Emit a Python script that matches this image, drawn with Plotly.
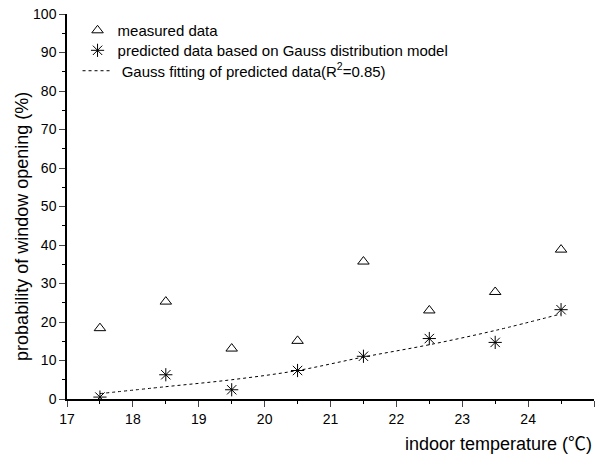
import plotly.graph_objects as go

temps = [17.5, 18.5, 19.5, 20.5, 21.5, 22.5, 23.5, 24.5]
measured = [18.4, 25.3, 13.1, 15.1, 35.7, 23.0, 27.8, 38.8]
predicted = [0.5, 6.3, 2.4, 7.4, 11.1, 15.7, 14.7, 23.2]
fit = [1.4, 3.2, 5.0, 7.4, 10.9, 14.1, 17.8, 22.1]

x_ticks = [17, 18, 19, 20, 21, 22, 23, 24, 25]
y_ticks = [0, 10, 20, 30, 40, 50, 60, 70, 80, 90, 100]

fig = go.Figure()
fig.add_trace(go.Scatter(
    x=temps, y=measured, mode="markers", name="measured data", legend="legend",
    marker=dict(symbol="triangle-up-open", size=10, color="black", line=dict(width=1, color="black")),
))
fig.add_trace(go.Scatter(
    x=temps, y=predicted, mode="markers", name="predicted data based on Gauss distribution model",
    legend="legend2",
    marker=dict(symbol="asterisk-open", size=11, color="black", line=dict(width=1, color="black")),
))
fig.add_trace(go.Scatter(
    x=temps, y=fit, mode="lines", name=" Gauss fitting of predicted data(R<sup>2</sup>=0.85)",
    legend="legend3",
    line=dict(color="black", width=1, dash="dot", shape="spline"),
))

leg_common = dict(x=0.02, xanchor="left", yanchor="middle", bgcolor="rgba(0,0,0,0)",
                  font=dict(size=15), itemwidth=30)

fig.update_layout(
    width=601, height=454,
    margin=dict(l=67, r=7, t=14, b=55),
    paper_bgcolor="white", plot_bgcolor="white",
    font=dict(family="Arial, Liberation Sans, sans-serif", size=14, color="black"),
    showlegend=True,
    legend=dict(y=0.957, **leg_common),
    legend2=dict(y=0.905, **leg_common),
    legend3=dict(y=0.852, **leg_common),
    xaxis=dict(range=[17, 25], tickvals=x_ticks, ticks="outside", ticklen=6,
               showline=True, linecolor="black", linewidth=1.5, showgrid=False, zeroline=False,
               minor=dict(dtick=0.5, ticks="outside", ticklen=3, tickcolor="black"),
               tickfont=dict(size=14)),
    yaxis=dict(range=[0, 100], tickvals=y_ticks, ticks="outside", ticklen=6,
               showline=True, linecolor="black", linewidth=1.5, showgrid=False, zeroline=False,
               minor=dict(dtick=5, ticks="outside", ticklen=3, tickcolor="black"),
               tickfont=dict(size=14)),
    annotations=[
        dict(text="indoor temperature (<span style='font-family:Noto Sans CJK SC'>℃</span>)",
             x=1.0, y=0, xref="paper", yref="paper",
             xanchor="right", yanchor="middle", yshift=-43, xshift=0, showarrow=False,
             font=dict(size=18)),
        dict(text="probability of window opening (%)", x=0, y=0.447, xref="paper", yref="paper",
             xanchor="center", yanchor="middle", xshift=-45, textangle=-90, showarrow=False,
             font=dict(size=18)),
    ],
)

fig.write_html("out.html")
